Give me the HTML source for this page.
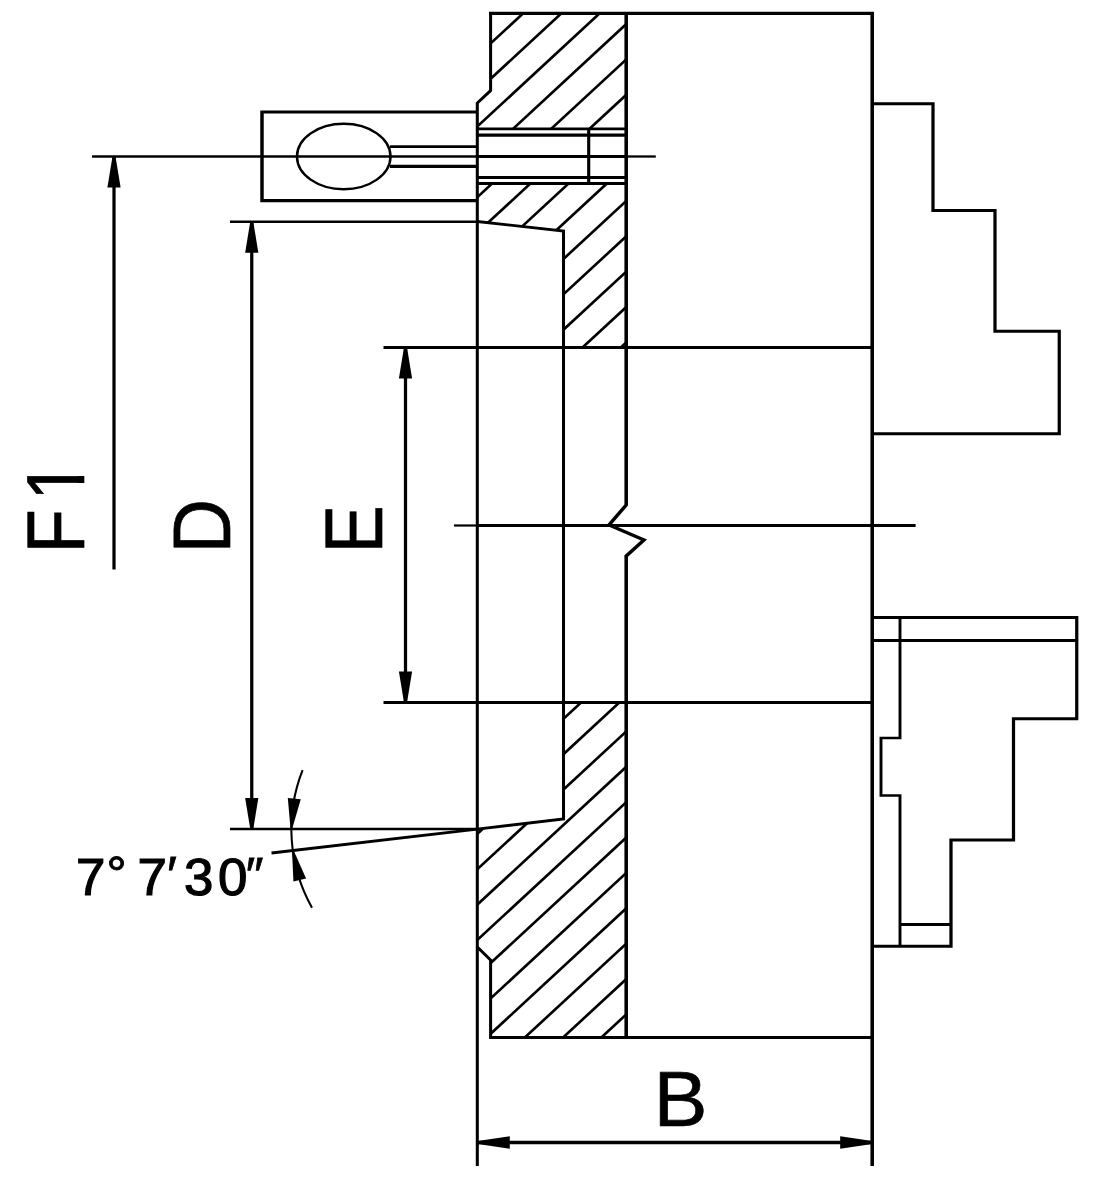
<!DOCTYPE html>
<html lang="en"><head><meta charset="utf-8"><title>Chuck section drawing</title>
<style>
html,body{margin:0;padding:0;background:#fff;}
svg{display:block;}
svg line,svg polyline,svg path,svg ellipse{stroke:#000;fill:none;}
svg polygon.a{fill:#000;stroke:none;}
svg text{font-family:"Liberation Sans",Arial,Helvetica,sans-serif;fill:#000;stroke:#000;}
</style></head><body>
<svg width="1104" height="1200" viewBox="0 0 1104 1200">
<rect width="1104" height="1200" fill="#fff"/>
<g transform="scale(1.081,1)">
<clipPath id="hc"><polygon points="453.84,13.3 579.28,13.3 579.28,128.9 441.54,128.9 441.54,103 453.84,90.6"/><polygon points="441.54,183.6 579.28,183.6 579.28,347.5 521.28,347.5 521.28,231 441.54,221.5"/><polygon points="521.28,702.5 579.28,702.5 579.28,1037.4 453.84,1037.4 453.84,960 441.54,947 441.54,829 521.28,819"/></clipPath>
<g clip-path="url(#hc)" stroke-width="2.55">
<line x1="425.53" y1="36.37" x2="592.04" y2="-130.13"/>
<line x1="425.53" y1="71.74" x2="592.04" y2="-94.76"/>
<line x1="425.53" y1="107.11" x2="592.04" y2="-59.39"/>
<line x1="425.53" y1="142.48" x2="592.04" y2="-24.02"/>
<line x1="425.53" y1="177.85" x2="592.04" y2="11.35"/>
<line x1="425.53" y1="213.22" x2="592.04" y2="46.72"/>
<line x1="425.53" y1="248.59" x2="592.04" y2="82.09"/>
<line x1="425.53" y1="283.96" x2="592.04" y2="117.46"/>
<line x1="425.53" y1="319.33" x2="592.04" y2="152.83"/>
<line x1="425.53" y1="354.7" x2="592.04" y2="188.2"/>
<line x1="425.53" y1="390.07" x2="592.04" y2="223.57"/>
<line x1="425.53" y1="425.44" x2="592.04" y2="258.94"/>
<line x1="425.53" y1="460.81" x2="592.04" y2="294.31"/>
<line x1="425.53" y1="496.18" x2="592.04" y2="329.68"/>
<line x1="425.53" y1="531.55" x2="592.04" y2="365.05"/>
<line x1="425.53" y1="779.14" x2="592.04" y2="612.64"/>
<line x1="425.53" y1="814.51" x2="592.04" y2="648.01"/>
<line x1="425.53" y1="849.88" x2="592.04" y2="683.38"/>
<line x1="425.53" y1="885.25" x2="592.04" y2="718.75"/>
<line x1="425.53" y1="920.62" x2="592.04" y2="754.12"/>
<line x1="425.53" y1="955.99" x2="592.04" y2="789.49"/>
<line x1="425.53" y1="991.36" x2="592.04" y2="824.86"/>
<line x1="425.53" y1="1026.73" x2="592.04" y2="860.23"/>
<line x1="425.53" y1="1062.1" x2="592.04" y2="895.6"/>
<line x1="425.53" y1="1097.47" x2="592.04" y2="930.97"/>
<line x1="425.53" y1="1132.84" x2="592.04" y2="966.34"/>
<line x1="425.53" y1="1168.21" x2="592.04" y2="1001.71"/>
<line x1="425.53" y1="1203.58" x2="592.04" y2="1037.08"/>
<line x1="425.53" y1="1238.95" x2="592.04" y2="1072.45"/>
<line x1="425.53" y1="1274.32" x2="592.04" y2="1107.82"/>
<line x1="425.53" y1="1309.69" x2="592.04" y2="1143.19"/>
</g>
<polyline points="806.85,1166 806.85,13.3 452.36,13.3" stroke-width="3.3"/>
<polyline points="453.84,13.3 453.84,90.6 441.54,103 441.54,1166" stroke-width="2.8"/>
<polyline points="441.54,947 453.84,960 453.84,1037.4" stroke-width="2.8"/>
<line x1="452.45" y1="1037.4" x2="806.85" y2="1037.4" stroke-width="3.0"/>
<polyline points="579.28,13.3 579.28,505 563.37,525 595.74,540 579.28,556 579.28,1037.4" stroke-width="3.3"/>
<polyline points="441.54,221.5 521.28,231 521.28,819 441.54,829.07 251.16,853" stroke-width="2.8"/>
<line x1="354.76" y1="347.5" x2="806.85" y2="347.5" stroke-width="2.8"/>
<line x1="354.76" y1="702.5" x2="806.85" y2="702.5" stroke-width="2.9"/>
<line x1="419.98" y1="525.5" x2="441.54" y2="525.5" stroke-width="2.2"/>
<line x1="441.54" y1="525.45" x2="846.99" y2="525.45" stroke-width="2.85"/>
<polyline points="441.54,112 242.37,112 242.37,200.6 441.54,200.6" stroke-width="3.2"/>
<ellipse cx="317.99" cy="156.5" rx="43.25" ry="32.75" stroke-width="2.3"/>
<line x1="360.78" y1="146.7" x2="441.54" y2="146.7" stroke-width="2.8"/>
<line x1="360.78" y1="166.4" x2="441.54" y2="166.4" stroke-width="3.1"/>
<line x1="85.11" y1="156.5" x2="579.28" y2="156.5" stroke-width="2.3"/>
<line x1="579.28" y1="156.5" x2="606.66" y2="156.5" stroke-width="2.3"/>
<line x1="441.54" y1="128.9" x2="579.28" y2="128.9" stroke-width="2.6"/>
<line x1="441.54" y1="135.2" x2="579.28" y2="135.2" stroke-width="3.3"/>
<line x1="441.54" y1="177.6" x2="579.28" y2="177.6" stroke-width="3.0"/>
<line x1="441.54" y1="183.6" x2="579.28" y2="183.6" stroke-width="3.0"/>
<line x1="441.54" y1="156.4" x2="579.28" y2="156.4" stroke-width="3.0"/>
<line x1="544.59" y1="128.9" x2="544.59" y2="183.6" stroke-width="2.9"/>
<polyline points="806.85,103.75 863.09,103.75 863.09,210.5 920.44,210.5 920.44,331.25 979.88,331.25 979.88,433.75 806.85,433.75" stroke-width="3.0"/>
<polyline points="806.85,617.5 996.07,617.5 996.07,718.75 937.56,718.75 937.56,840 879.74,840 879.74,946.25 806.85,946.25" stroke-width="3.0"/>
<line x1="806.85" y1="640.5" x2="996.07" y2="640.5" stroke-width="2.8"/>
<polyline points="832.56,617.5 832.56,738 814.99,738 814.99,795.5 832.56,795.5 832.56,946.25" stroke-width="2.7"/>
<line x1="832.56" y1="924.5" x2="879.74" y2="924.5" stroke-width="2.9"/>
<line x1="105.46" y1="157" x2="105.46" y2="569.5" stroke-width="3.0"/>
<polygon class="a" points="106.89,156.8 111.56,187.6 99.35,187.6 104.02,156.8"/>
<line x1="212.77" y1="221.75" x2="441.54" y2="221.75" stroke-width="2.3"/>
<line x1="212.77" y1="829" x2="441.54" y2="829" stroke-width="2.3"/>
<line x1="232.89" y1="222" x2="232.89" y2="829" stroke-width="3.0"/>
<polygon class="a" points="234.32,222 238.99,252.8 226.78,252.8 231.45,222"/>
<polygon class="a" points="231.45,828.8 226.78,798 238.99,798 234.32,828.8"/>
<line x1="375.12" y1="348" x2="375.12" y2="702" stroke-width="3.0"/>
<polygon class="a" points="376.55,347.8 381.22,378.6 369.01,378.6 373.68,347.8"/>
<polygon class="a" points="373.68,702.2 369.01,671.4 381.22,671.4 376.55,702.2"/>
<line x1="442.18" y1="1142.5" x2="806.66" y2="1142.5" stroke-width="3.3"/>
<polygon class="a" points="442,1140.95 471.6,1136.3 471.6,1148.7 442,1144.05"/>
<polygon class="a" points="806.85,1144.05 777.24,1148.7 777.24,1136.3 806.85,1140.95"/>
<path d="M279.91,770.16 A172,172 0 0 0 288.61,907.72" stroke-width="1.9"/>
<polygon class="a" points="268.71,828.31 266.25,798 278.22,799.27 270.37,828.49"/>
<polygon class="a" points="271.76,850.81 283.14,878.58 271.44,881.56 270.14,851.22"/>
</g>
<clipPath id="c1"><polygon points="-5.00,-60.00 77.29,-60.00 77.29,0.71 70.24,0.71 70.24,-6.70 48.00,-6.70 48.00,6.00 -5.00,6.00"/></clipPath>
<text transform="translate(84.1,553.2) rotate(-90) scale(1,1.14)" font-size="72.2" stroke-width="0.6" clip-path="url(#c1)" dx="0 8.30">F1</text>
<text transform="translate(229.8,553.4) rotate(-90) scale(1,1.09)" font-size="75.6" stroke-width="0.6" >D</text>
<text transform="translate(382.0,553.4) rotate(-90) scale(1,1.125)" font-size="72.6" stroke-width="0.6" >E</text>
<text transform="translate(653.6,1125.8) scale(1.045,1)" font-size="77.6" stroke-width="0.6">B</text>
<text transform="translate(0,895.4) scale(1,0.97)" font-size="52.9" stroke-width="1.25"><tspan x="75.9" y="0">7</tspan><tspan x="106.4" y="-5.8" font-size="50.3" stroke-width="1">°</tspan> <tspan x="137.5" y="0">7</tspan><tspan x="167.1" y="-2.3" stroke-width="0.8">′</tspan> <tspan x="183.9 217.9" y="0 0">30</tspan><tspan x="245.8" y="-4.7" font-size="50" stroke-width="0.8">″</tspan></text>
</svg>
</body></html>
